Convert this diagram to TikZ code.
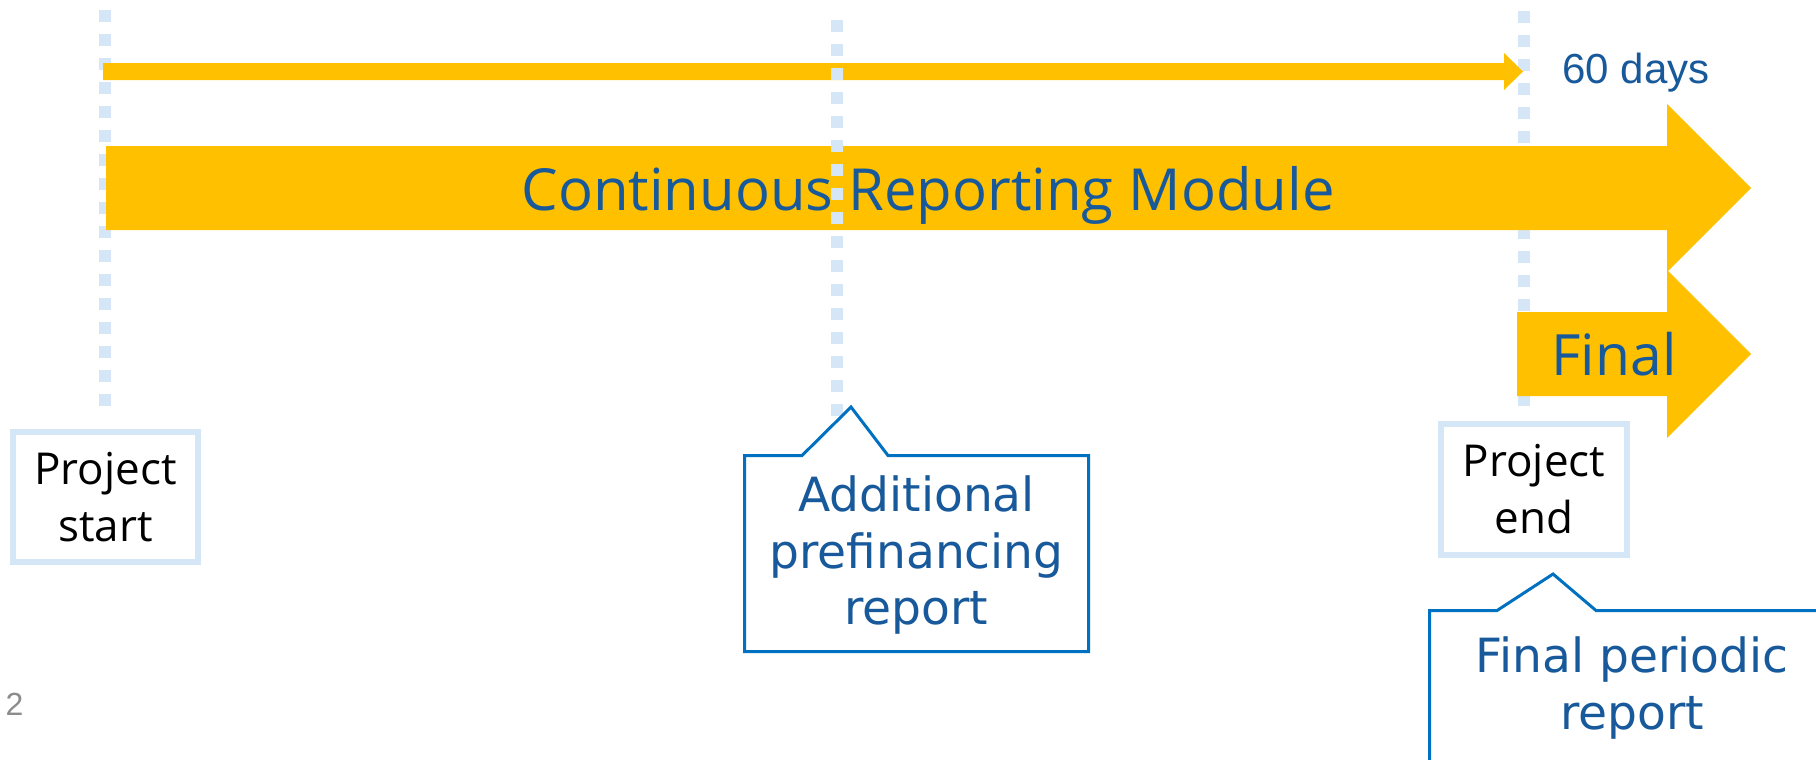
\documentclass[tikz,border=0pt]{standalone}
\usepackage{fontspec}
\usepackage{tikz}
\usetikzlibrary{positioning,calc}
\newfontfamily\segoe{Open Sans}
\newfontfamily\verdana{DejaVu Sans}
\newfontfamily\arial{Liberation Sans}
\definecolor{balken}{HTML}{FFC000}
\definecolor{punktblau}{HTML}{D5E7F7}
\definecolor{schriftblau}{HTML}{17599A}
\definecolor{rahmenblau}{HTML}{0070C0}
\definecolor{seitengrau}{HTML}{8C8C8C}

\begin{document}
\begin{tikzpicture}[x=0.01cm,y=-0.01cm,
  punktlinie/.style={draw=punktblau,line width=3.41pt,dash pattern=on 3.41pt off 3.41pt},
  meilenstein/.style={draw=punktblau,line width=1.7pt,fill=white,minimum width=1.85cm,minimum height=1.3cm,
    inner sep=0pt,align=center,font=\segoe\fontsize{12.5}{16.2}\selectfont},
  sprechblase/.style={draw=rahmenblau,line width=0.85pt,fill=white},
  blasentext/.style={text=schriftblau,align=center,font=\verdana\fontsize{13.4}{16.2}\selectfont}]
%Alles in Pixeln des Bildes (1816 x 759), y nach unten
  \useasboundingbox (0,0) rectangle (1816,759);
  \clip (0,0) rectangle (1816,759);
  \pgfmathsetmacro{\kopf}{84}
  \pgfmathsetmacro{\spitze}{1667}
%Hilfslinien Projektstart und Projektende
\foreach \x/\ya in {105/10,1524/11}{
  \draw[punktlinie] (\x,\ya) -- (\x,406);
}
%60 Tage
\fill[balken] (103,63) -- (1504,63) -- (1504,53) -- (1523,71.5) -- (1504,90) -- (1504,80) -- (103,80) -- cycle;
%Hauptpfeil und Final-Pfeil
\fill[balken] (106,146) -- (\spitze,146) -- ++(0,-42) -- ++(\kopf,\kopf) -- ++(-\kopf,\kopf) -- ++(0,-42) -- (106,230) -- cycle;
\fill[balken] (1517,312) -- (\spitze,312) -- ++(0,-42) -- ++(\kopf,\kopf) -- ++(-\kopf,\kopf) -- ++(0,-42) -- (1517,396) -- cycle;
\draw[punktlinie] (837,20) -- (837,418);
\node[text=schriftblau,font=\segoe\fontsize{16.5}{20}\selectfont,anchor=base] (modul) at (928,210) {Continuous Reporting Module};
\node[text=schriftblau,font=\segoe\fontsize{16.2}{20}\selectfont,anchor=base] (final) at (1614,375) {Final};
\node[text=schriftblau,font=\arial\fontsize{11.95}{14}\selectfont,anchor=base] (tage) at (1636,83) {60 days};
%Meilensteine
\node[meilenstein] (start) at (105.5,497) {Project\\start};
\node[meilenstein] (ende) at (1534,489.5) {Project\\end};
%Berichte
\draw[sprechblase] (744.5,651.5) -- (744.5,455.5) -- (802,455.5) -- (851,407) -- (888,455.5) -- (1088.5,455.5) -- (1088.5,651.5) -- cycle;
\node[blasentext] (zusatz) at (916.5,555) {Additional\\prefinancing\\report};
\draw[sprechblase] (1429.5,775) -- (1429.5,610.5) -- (1497,610.5) -- (1553,574) -- (1596,610.5) -- (1830,610.5) -- (1830,775);
\node[blasentext] (schluss) at (1632,688) {Final periodic\\report};
\node[text=seitengrau,font=\arial\fontsize{9.1}{11}\selectfont,anchor=base west,inner sep=0pt] (seite) at (5,715) {2};
\end{tikzpicture}
\end{document}
